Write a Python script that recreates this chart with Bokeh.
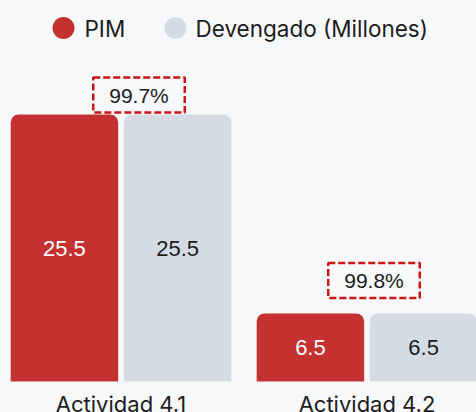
import numpy as np
from bokeh.plotting import figure
from bokeh.models import ColumnDataSource, Range1d
from bokeh.core.properties import value
from bokeh.embed import file_html
from bokeh.resources import INLINE

# ---- data ----
categories = ["Actividad 4.1", "Actividad 4.2"]
pim = [25.5, 6.5]
devengado = [25.5, 6.5]
pct_exec = [99.7, 99.8]
series = ["PIM", "Devengado (Millones)"]

# ---- style ----
RED = "#c43131"
GRAY = "#d5dbe3"
BG = "#f7f8fa"
DARK = "#1c1c1c"
BOX = "#cc1414"
FONT = "Inter"
NUMFONT = "Liberation Sans"

W, H = 476, 412
PX_X = 246.0      # px per category
PX_Y = 10.47      # px per unit
X0 = -2.5         # figure px where category axis starts
BASE = 381.0      # figure px of the zero line

def ux(px):
    return (px - X0) / PX_X

def vy(py):
    return (BASE - py) / PX_Y

p = figure(width=W, height=H, output_backend="svg", toolbar_location=None,
           x_range=Range1d(ux(0), ux(W)), y_range=Range1d(vy(H), vy(0)),
           min_border=0, background_fill_color=BG, border_fill_color=BG,
           outline_line_color=None)
p.axis.visible = False
p.grid.visible = False

idx = np.arange(len(categories)) + 0.5
bw = 0.437
src = ColumnDataSource(dict(
    cat=categories, x=idx, pim=pim, dev=devengado,
    x_pim=idx - 0.23, x_dev=idx + 0.23,
    pim_half=[v / 2 for v in pim], dev_half=[v / 2 for v in devengado],
    pim_txt=[f"{v:.1f}" for v in pim], dev_txt=[f"{v:.1f}" for v in devengado],
    top=[max(a, b) for a, b in zip(pim, devengado)],
    pct_txt=[f"{v:.1f}%" for v in pct_exec],
    pct_dx=[18, 7], pct_dy=[-19.5, -33],
))

p.vbar(x="x_pim", top="pim", bottom=0, width=bw, source=src,
       fill_color=RED, line_color=None, border_radius=(8, 8, 0, 0))
p.vbar(x="x_dev", top="dev", bottom=0, width=bw, source=src,
       fill_color=GRAY, line_color=None, border_radius=(8, 8, 0, 0))

p.text(x="x_pim", y="pim_half", text="pim_txt", source=src,
       text_color="white", text_font=value(NUMFONT), text_font_size="22px",
       text_align="center", text_baseline="middle")
p.text(x="x_dev", y="dev_half", text="dev_txt", source=src,
       text_color=DARK, text_font=value(NUMFONT), text_font_size="22px",
       text_align="center", text_baseline="middle")

# percentage boxes
p.text(x="x", y="top", text="pct_txt", source=src, x_offset="pct_dx", y_offset="pct_dy",
       text_color=DARK, text_font=value(NUMFONT), text_font_size="21px",
       text_align="center", text_baseline="middle",
       border_line_color=BOX, border_line_width=2.5, border_line_dash="7 3",
       padding=dict(left=16, right=16, top=6, bottom=6))

# category labels
p.text(x="x", y=0, text="cat", source=src, y_offset=9,
       text_color=DARK, text_font=value(FONT), text_font_size="22px",
       text_align="center", text_baseline="top")

# legend
leg_y = vy(27.5)
p.scatter(x=[ux(63), ux(175)], y=[leg_y, leg_y], size=22, marker="circle",
          fill_color=[RED, GRAY], line_color=None)
p.text(x=[ux(84), ux(195)], y=[leg_y, leg_y], text=series,
       text_color=DARK, text_font=value(FONT), text_font_size="22.5px",
       text_align="left", text_baseline="middle")

open("out.html", "w").write(file_html(p, INLINE))
